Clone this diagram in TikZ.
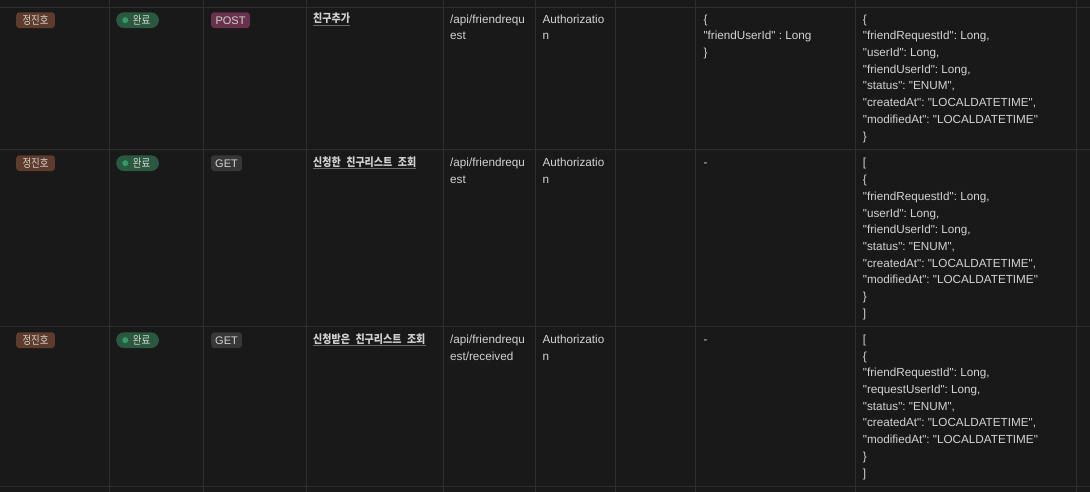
\documentclass[tikz,border=0pt]{standalone}
\usepackage{fontspec}
\setmainfont{Liberation Sans}[Ligatures=TeXOff]
\newfontfamily\krfont[FakeStretch=0.87]{Noto Sans CJK KR}
\newfontfamily\krbfont[FakeStretch=0.82]{Noto Sans CJK KR}
\definecolor{bgc}{HTML}{191919}
\definecolor{gridc}{HTML}{2F2F2F}
\definecolor{txt}{HTML}{D3D3D3}
\definecolor{brownc}{HTML}{5E3B2B}
\definecolor{greenc}{HTML}{2B593F}
\definecolor{dotc}{HTML}{2D9D66}
\definecolor{pinkc}{HTML}{69314C}
\definecolor{grayc}{HTML}{373737}
\definecolor{ulc}{HTML}{666666}
\newcommand\jsonfont{\fontsize{11.7}{16.7}\selectfont\frenchspacing}
\newcommand\badgefont{\fontsize{11}{12}\selectfont}
\newcommand\krbadge{\krbfont\fontsize{11.5}{12}\selectfont}
\newcommand\titlefont{\krfont\bfseries\fontsize{11.5}{14}\selectfont}
\newcommand\ksp{\hspace{5.5pt}}
\begin{document}
\begin{tikzpicture}[x=1pt,y=-1pt,
  gridline/.style={draw=gridc, line width=1pt},
  cell/.style={anchor=north west, inner sep=0pt, align=left, text=txt, font=\jsonfont},
  badge/.style={anchor=west, inner xsep=0pt, inner ysep=0pt, minimum height=15.7pt, rounded corners=3pt, text=txt, font=\badgefont, text height=7.8pt, text depth=0pt},
  owner/.style={badge, fill=brownc, minimum width=38.7pt},
  pill/.style={badge, fill=greenc, rounded corners=7.8pt, inner xsep=7.5pt, minimum width=42.7pt},
  methpost/.style={badge, fill=pinkc, minimum width=38.7pt},
  methget/.style={badge, fill=grayc, minimum width=30.7pt},
  titletext/.style={anchor=base west, inner sep=0pt, text=txt, font=\titlefont},
  uline/.style={draw=ulc, line width=0.8pt}]
\fill[bgc] (0,0) rectangle (1090,492);
\useasboundingbox (0,0) rectangle (1090,492);
\foreach \x in {109.3,203.3,306.3,443.3,535.3,615.3,695.3,855.3,1076.3}
  \draw[gridline] (\x,0) -- (\x,492);
\foreach \y in {7.3,150,326.5,486.3}
  \draw[gridline] (0,\y) -- (1090,\y);

% Row 1
\node[owner] (o1) at (16,20.2) {\krbadge 정진호};
\node[pill] (s1) at (116,20.2) {\hspace{8pt}\krbadge 완료};
\fill[dotc] ([xshift=9.3pt]s1.west) circle (3pt);
\node[methpost] (m1) at (211,20.2) {POST};
\node[titletext] (t1) at (313,23) {친구추가};
\draw[uline] ([yshift=-2pt]t1.base west) -- ([yshift=-2pt]t1.base east);
\node[cell] (u1) at (450,11.31) {\strut/api/friendrequ\\est};
\node[cell] (h1) at (542.3,11.31) {\strut Authorizatio\\n};
\node[cell] (q1) at (703.3,11.31) {\strut\{\\"friendUserId" : Long\\\}};
\node[cell] (r1) at (862.7,11.31) {\strut\{\\"friendRequestId": Long,\\"userId": Long,\\"friendUserId": Long,\\"status": "ENUM",\\"createdAt": "LOCALDATETIME",\\"modifiedAt": "LOCALDATETIME"\\\}};

% Row 2
\node[owner] (o2) at (16,163.2) {\krbadge 정진호};
\node[pill] (s2) at (116,163.2) {\hspace{8pt}\krbadge 완료};
\fill[dotc] ([xshift=9.3pt]s2.west) circle (3pt);
\node[methget] (m2) at (211,163.2) {GET};
\node[titletext] (t2) at (313,166.7) {신청한\ksp 친구리스트\ksp 조회};
\draw[uline] ([yshift=-2pt]t2.base west) -- ([yshift=-2pt]t2.base east);
\node[cell] (u2) at (450,155.01) {\strut/api/friendrequ\\est};
\node[cell] (h2) at (542.3,155.01) {\strut Authorizatio\\n};
\node[cell] (q2) at (703.3,155.01) {\strut-};
\node[cell] (r2) at (862.7,155.01) {\strut[\\\{\\"friendRequestId": Long,\\"userId": Long,\\"friendUserId": Long,\\"status": "ENUM",\\"createdAt": "LOCALDATETIME",\\"modifiedAt": "LOCALDATETIME"\\\}\\]};

% Row 3
\node[owner] (o3) at (16,340.2) {\krbadge 정진호};
\node[pill] (s3) at (116,340.2) {\hspace{8pt}\krbadge 완료};
\fill[dotc] ([xshift=9.3pt]s3.west) circle (3pt);
\node[methget] (m3) at (211,340.2) {GET};
\node[titletext] (t3) at (313,343.2) {신청받은\ksp 친구리스트\ksp 조회};
\draw[uline] ([yshift=-2pt]t3.base west) -- ([yshift=-2pt]t3.base east);
\node[cell] (u3) at (450,331.51) {\strut/api/friendrequ\\est/received};
\node[cell] (h3) at (542.3,331.51) {\strut Authorizatio\\n};
\node[cell] (q3) at (703.3,331.51) {\strut-};
\node[cell] (r3) at (862.7,331.51) {\strut[\\\{\\"friendRequestId": Long,\\"requestUserId": Long,\\"status": "ENUM",\\"createdAt": "LOCALDATETIME",\\"modifiedAt": "LOCALDATETIME"\\\}\\]};
\end{tikzpicture}
\end{document}
